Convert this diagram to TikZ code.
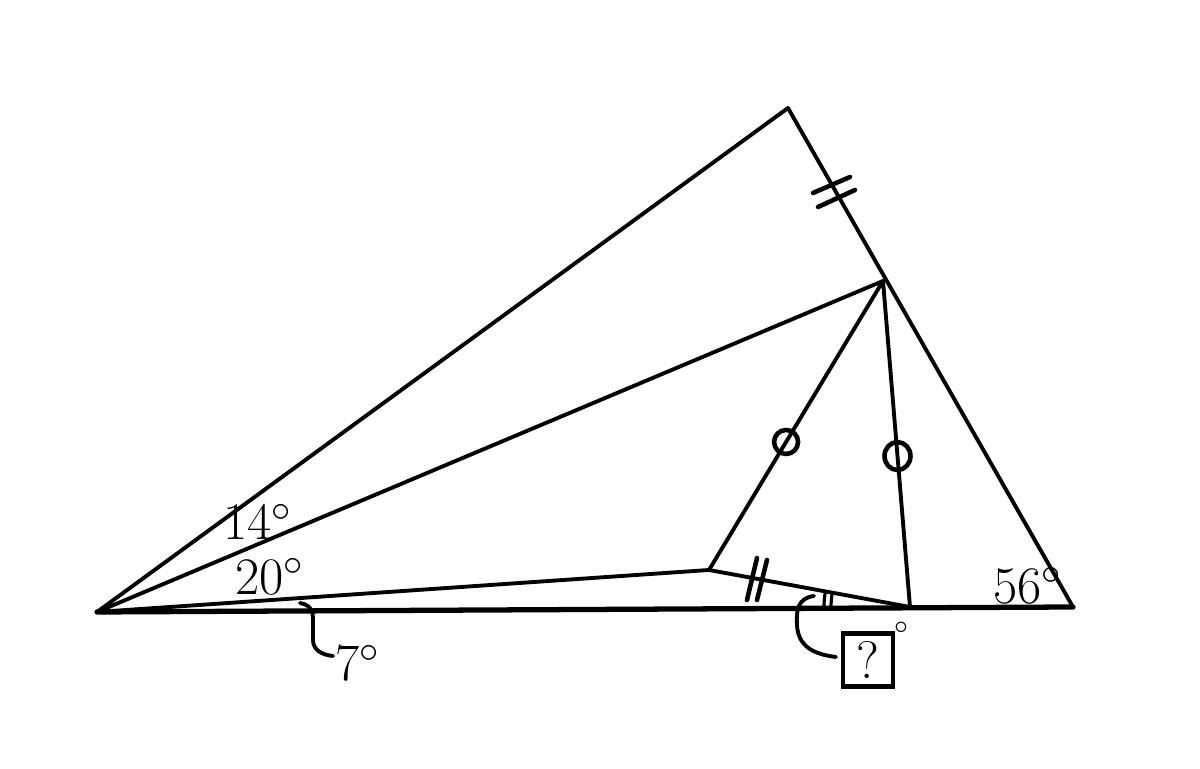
\documentclass[tikz,border=0pt]{standalone}
\usepackage{tikz}
\usetikzlibrary{calc}
\tikzset{
	seg/.style={line width=1.1pt, line cap=round, line join=round},
	tick/.style={line width=1.3pt, line cap=round},
	lbl/.style={font=\fontsize{15}{18}\selectfont, inner sep=0pt}
}

\begin{document}
\begin{tikzpicture}
			%%%%% START %%%%%
			\useasboundingbox (0, 0) rectangle (12, -7.69);
			
			\coordinate (A) at (0.97, -6.12);
			\coordinate (T) at (7.88, -1.08);
			\coordinate (D) at (8.83, -2.81);
			\coordinate (R) at (10.73, -6.07);
			\coordinate (E) at (9.10, -6.07);
			\coordinate (P) at (7.09, -5.70);
			
			\draw[seg] (A) -- (T) -- (R);
			\draw[line width=1.5pt, line cap=round] (A) -- (R);
			\draw[seg] (A) -- (D);
			\draw[seg] (A) -- (P) -- (E);
			\draw[seg] (P) -- (D) -- (E);
			
			% equal marks
			\draw[tick] (8.13, -1.93) -- (8.50, -1.77);
			\draw[tick] (8.18, -2.07) -- (8.55, -1.90);
			\draw[tick] (7.47, -6.00) -- (7.57, -5.58);
			\draw[tick] (7.57, -6.00) -- (7.67, -5.60);
			\draw[line width=1.3pt] ($(D)!0.557!(P)$) circle (0.12);
			\draw[line width=1.3pt] ($(D)!0.537!(E)$) ellipse (0.13 and 0.14);
			
			% angle at E
			\draw[line width=0.9pt] ($(E)+(169:0.86)$) arc (169:180:0.86);
			\draw[line width=0.9pt] ($(E)+(169:0.79)$) arc (169:180:0.79);
			
			% brackets
			\draw[line width=1.1pt, line cap=round] (3.00, -6.03) .. controls (3.10, -6.05) and (3.13, -6.10) .. (3.13, -6.20) -- (3.13, -6.40) .. controls (3.13, -6.50) and (3.22, -6.55) .. (3.33, -6.56);
			\draw[line width=1.1pt, line cap=round] (8.14, -5.96) .. controls (7.98, -5.98) and (7.96, -6.10) .. (7.97, -6.25) .. controls (7.98, -6.50) and (8.20, -6.55) .. (8.36, -6.57);
			
			% labels
			\node[lbl] (a14) at (2.58, -5.22) {14$^\circ$};
			\node[lbl] (a20) at (2.70, -5.77) {20$^\circ$};
			\node[lbl] (a7) at (3.58, -6.63) {7$^\circ$};
			\node[lbl] (a56) at (10.28, -5.86) {56$^\circ$};
			\node[draw, line width=1.2pt, minimum width=0.50cm, minimum height=0.53cm, inner sep=0pt, font=\fontsize{15}{18}\selectfont] (q) at (8.68, -6.60) {?};
			\node[inner sep=0pt] (deg) at (9.01, -6.28) {$\scriptstyle\circ$};
			%%%%% END %%%%%
		\end{tikzpicture}
\end{document}
